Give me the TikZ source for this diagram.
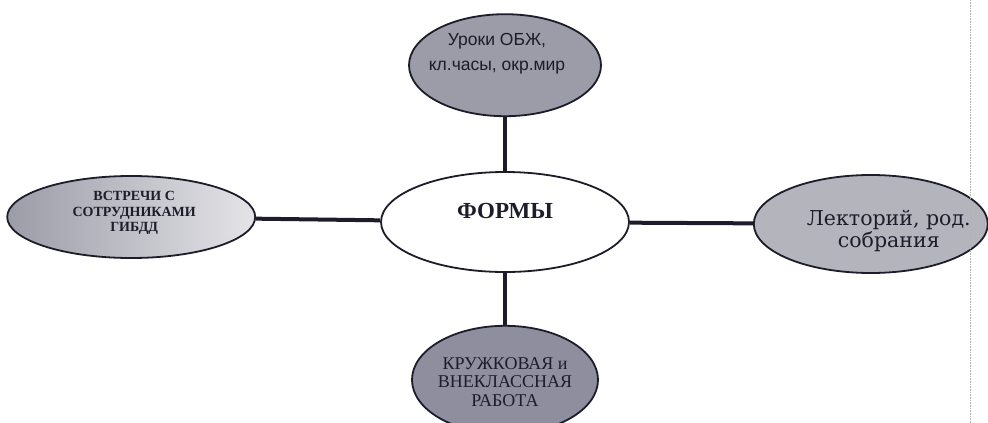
\documentclass[tikz,border=0pt]{standalone}
\usepackage{fontspec}
\setmainfont{Liberation Serif}
\newfontfamily\sansrm{Liberation Sans}
\newfontfamily\wideserif{DejaVu Serif}
\usetikzlibrary{positioning,shapes.geometric}
\definecolor{ink}{HTML}{1C1C2A}
\definecolor{darkdots}{HTML}{8E8E9E}
\definecolor{dots}{HTML}{9C9CA8}
\definecolor{lightdots}{HTML}{B4B4BC}
\definecolor{palest}{HTML}{E4E4E8}

\begin{document}
\begin{tikzpicture}[x=1pt,y=-1pt,
  oval/.style={ellipse,draw=ink,line width=1.8pt,inner sep=0pt},
  link/.style={draw=ink,line width=4pt},
  caption/.style={align=center,text=ink,inner sep=0pt}]
\useasboundingbox (0,0) rectangle (988,423);
\clip (0,0) rectangle (988,423);

\node[oval,fill=white,minimum width=248pt,minimum height=100pt] (form) at (505,222) {};
\node[oval,fill=dots,minimum width=192pt,minimum height=102pt,above=54pt of form] (lessons) {};
\node[oval,left color=dots,right color=palest,minimum width=248pt,minimum height=82pt,left=124pt of form,yshift=5pt] (police) {};
\node[oval,fill=lightdots,minimum width=234pt,minimum height=98pt,right=123pt of form,yshift=-2pt] (lecture) {};
\node[oval,fill=darkdots,minimum width=186pt,minimum height=108pt,below=52pt of form] (circles) {};

\node[caption,font=\bfseries\fontsize{23}{26}\selectfont] (formtext) at ([yshift=11pt]form) {ФОРМЫ};
\node[caption,font=\sansrm\fontsize{17.5}{25}\selectfont] (lessonstext) at ([xshift=-8pt,yshift=11pt]lessons) {Уроки ОБЖ,\\кл.часы, окр.мир};
\node[caption,font=\bfseries\fontsize{14}{15.5}\selectfont] (policetext) at ([xshift=3pt,yshift=4pt]police) {ВСТРЕЧИ С\\СОТРУДНИКАМИ\\ГИБДД};
\node[caption,font=\wideserif\fontsize{20.5}{22}\selectfont] (lecturetext) at ([xshift=18pt,yshift=-7pt]lecture) {Лекторий, род.\\собрания};
\node[caption,font=\fontsize{18}{18.5}\selectfont] (circlestext) at ([yshift=-2pt]circles) {КРУЖКОВАЯ и\\ВНЕКЛАССНАЯ\\РАБОТА};

\draw[link] (lessons) -- (form);
\draw[link] (police) -- (form);
\draw[link] (form) -- (lecture);
\draw[link] (form) -- (circles);

\draw[gray!60,line width=0.6pt,densely dotted] (970,0) -- (970,423);
\end{tikzpicture}
\end{document}
